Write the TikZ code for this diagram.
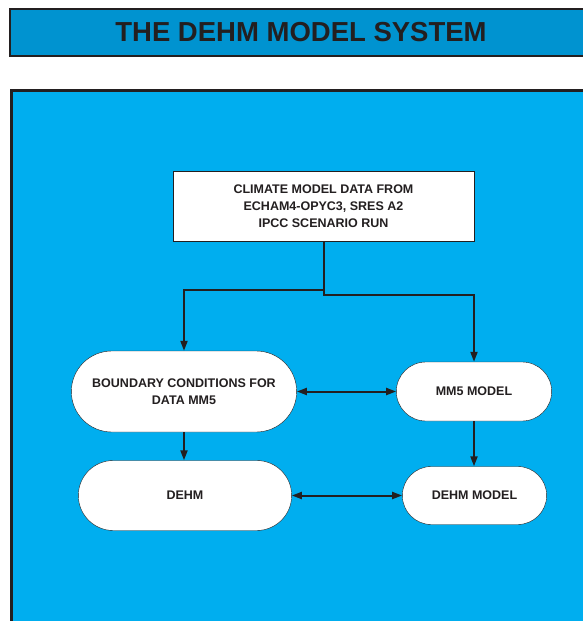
\documentclass[tikz,border=0pt]{standalone}
\usepackage{fontspec}
\setmainfont{Liberation Sans}
\usetikzlibrary{arrows.meta, positioning, shapes.misc}

\definecolor{inkgray}{HTML}{231F20}
\definecolor{barblue}{HTML}{0093D0}
\definecolor{panelblue}{HTML}{00AEEF}

\begin{document}
\begin{tikzpicture}[
  x=1pt, y=-1pt,
  box/.style   = {draw=inkgray, thin, fill=white, align=center, font=\bfseries\fontsize{12.5}{17}\selectfont, text=inkgray},
  pill/.style  = {box, rounded rectangle},
  arrow/.style = {draw=inkgray, line width=2pt, -{Triangle[length=10pt, width=7pt]}},
  both/.style  = {draw=inkgray, line width=2pt, {Triangle[length=10pt, width=7pt]}-{Triangle[length=10pt, width=7pt]}}
]
  \useasboundingbox (0,0) rectangle (582,621);

  % title bar
  \node[draw=inkgray, line width=2.5pt, fill=barblue, minimum width=582, minimum height=47,
        font=\bfseries\fontsize{27.5}{27.5}\selectfont, text=inkgray] (title) at (301,32.5) {THE DEHM MODEL SYSTEM};

  % blue panel behind the chart
  \draw[draw=inkgray, line width=3pt, fill=panelblue] (11,90) rectangle (620,660);

  % climate data on top
  \node[box, minimum width=301, minimum height=70] (climate) at (323.5,206) {
    CLIMATE MODEL DATA FROM\\
    ECHAM4-OPYC3, SRES A2\\
    IPCC SCENARIO RUN
  };

  % first row
  \node[pill, minimum width=232, minimum height=81] (bound) at (184,391.5) {
    BOUNDARY CONDITIONS FOR\\
    DATA MM5
  };
  \node[pill, minimum width=162, minimum height=59] (mm5) at (474,391.5) {MM5 MODEL};

  % second row
  \node[pill, minimum width=220, minimum height=70] (input) at (185,495.5) {DEHM};
  \node[pill, minimum width=151, minimum height=58] (dehm) at (474.5,495.5) {DEHM MODEL};

  % climate data split to both models
  \coordinate (split) at (climate.south |- 0,295);
  \draw[arrow] (climate.south) -- (split) -| (mm5.north);
  \draw[arrow] (climate.south |- 0,290) -| (bound.north);

  % links between the boxes
  \draw[both] (bound.east) -- (mm5.west);
  \draw[arrow] (bound.south) -- (input.north -| bound.south);
  \draw[arrow] (mm5.south) -- (dehm.north -| mm5.south);
  \draw[both] (input.east) -- (dehm.west);

\end{tikzpicture}
\end{document}
